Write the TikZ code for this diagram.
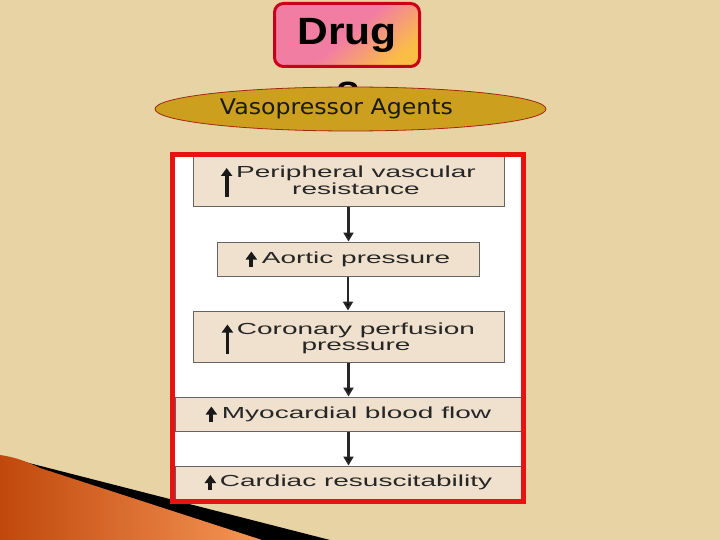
\documentclass[tikz,border=0pt]{standalone}
\usepackage{fontspec}
\setmainfont{Liberation Sans}
\newfontfamily\boxfont[FakeStretch=1.75]{Liberation Sans}
\newfontfamily\drugfont[FakeStretch=1.12]{Liberation Sans}
\newfontfamily\ellfont[FakeStretch=1.1]{DejaVu Sans}
\usetikzlibrary{arrows.meta,shapes.geometric}
\definecolor{parch}{RGB}{231,211,163}
\definecolor{boxfill}{RGB}{239,225,205}
\definecolor{boxline}{RGB}{100,100,100}
\definecolor{framered}{RGB}{232,18,18}
\definecolor{drugred}{RGB}{200,0,25}
\definecolor{drugpink}{RGB}{242,125,162}
\definecolor{drugorange}{RGB}{250,190,70}
\definecolor{gold}{RGB}{204,160,30}
\definecolor{goldline}{RGB}{160,40,20}
\definecolor{ordark}{RGB}{192,72,12}
\definecolor{orlight}{RGB}{245,150,85}
\newcommand\uparr[1]{$\vcenter{\hbox{\tikz\draw[draw=black!90,line width=3.8pt,-{Triangle[length=8pt,width=11pt]}] (0pt,0pt) -- (0pt,#1);}}$}
\newcommand\twolines[2]{$\vcenter{\hbox{\begin{tabular}{@{}c@{}}#1\\#2\end{tabular}}}$}
\newcommand\lowered[1]{\raisebox{-2.5pt}[\height][\depth]{#1}}
\tikzset{
  flowbox/.style={draw=boxline, line width=1pt, fill=boxfill, inner sep=0pt,
    align=center, font=\boxfont\fontsize{16}{16}\selectfont, text=black!85},
  conn/.style={draw=black!85, line width=2.2pt, -{Triangle[length=9pt,width=10pt]}},
  drugbox/.style={draw=drugred, line width=3pt, rounded corners=9pt,
    top color=drugpink, bottom color=drugorange, middle color=drugpink, shading angle=40,
    minimum width=145pt, minimum height=63pt, inner sep=0pt,
    font=\drugfont\bfseries\fontsize{38}{44}\selectfont},
  vaso/.style={ellipse, draw=goldline, line width=0.8pt, fill=gold, inner sep=0pt,
    minimum width=391pt, minimum height=44pt,
    font=\ellfont\fontsize{21.5}{26}\selectfont, text=black!90}
}
\begin{document}
\begin{tikzpicture}[x=1pt,y=-1pt]
\fill[parch] (0,0) rectangle (720,540);
\useasboundingbox (0,0) rectangle (720,540);
% bottom-left wedge
\fill[black] (25,462) -- (330,540) -- (150,540) -- cycle;
\shade[left color=ordark, right color=orlight] (0,455) .. controls (15,457) and (28,462) .. (40,468) -- (262,540) -- (0,540) -- cycle;
% title
\node[font=\drugfont\bfseries\fontsize{38}{44}\selectfont, anchor=base] (s) at (348,103) {s};
\node[drugbox] (drug) at (347,35) {Drug};
\node[vaso] (vaso) at (350.5,109) {\hspace*{-28pt}Vasopressor Agents};
% frame background
\fill[white] (172.5,154.5) rectangle (523.5,501.5);
% flow boxes
\node[flowbox, minimum width=311pt, minimum height=54pt] (b1) at (348.5,180) {\lowered{\uparr{29pt}\hspace{4pt}\twolines{Peripheral vascular}{resistance}}};
\node[flowbox, minimum width=262pt, minimum height=34pt] (b2) at (348,259) {\uparr{15pt}\hspace{5pt}Aortic pressure};
\node[flowbox, minimum width=311pt, minimum height=51pt] (b3) at (348.5,336.5) {\lowered{\uparr{29pt}\hspace{4pt}\twolines{Coronary perfusion}{pressure}}};
\node[flowbox, minimum width=347pt, minimum height=34pt] (b4) at (348.5,414) {\uparr{15pt}\hspace{5pt}Myocardial blood flow};
\node[flowbox, minimum width=347pt, minimum height=33pt] (b5) at (348.5,482.5) {\uparr{15pt}\hspace{4pt}Cardiac resuscitability};
% connectors
\draw[conn] (b1.south) -- (b1.south |- b2.north);
\draw[conn] (b2.south) -- (b2.south |- b3.north);
\draw[conn] (b3.south) -- (b3.south |- b4.north);
\draw[conn] (b4.south) -- (b4.south |- b5.north);
% red frame
\draw[framered, line width=5pt] (172.5,154.5) rectangle (523.5,501.5);
\end{tikzpicture}
\end{document}
